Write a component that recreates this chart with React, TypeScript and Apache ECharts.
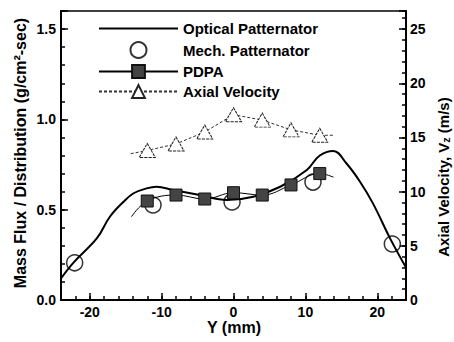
import React, { useEffect, useRef } from "react";
import * as echarts from "echarts";

// ---- data ----
const OPTICAL_X = [-24, -22.2, -19, -17.2, -15.3, -13.9, -12.1, -10.7, -8.4, -4.7, -0.9, 2.75, 6.5, 10.2, 12.0, 13.9, 15.7, 17.6, 19.4, 21.8, 24];
const OPTICAL_Y = [0.12, 0.21, 0.342, 0.461, 0.544, 0.591, 0.618, 0.627, 0.609, 0.581, 0.554, 0.572, 0.627, 0.72, 0.8, 0.825, 0.757, 0.655, 0.535, 0.34, 0.18];

const MECH_X = [-22.1, -11.2, -0.2, 11.06, 22.1];
const MECH_Y = [0.206, 0.526, 0.543, 0.653, 0.31];

// first and last entries are curve ends without marker
const PDPA_X = [-14.2, -12, -8, -4, 0, 4, 8, 12, 13.9];
const PDPA_Y = [0.461, 0.548, 0.581, 0.559, 0.594, 0.581, 0.637, 0.7, 0.68];

const AXIAL_X = [-14.3, -12, -8, -4, 0, 4, 8, 12, 13.9];
const AXIAL_Y = [13.5, 13.8, 14.4, 15.5, 17.1, 16.6, 15.7, 15.2, 15.2];

const SERIES_NAMES = ["Optical Patternator", "Mech. Patternator", "PDPA", "Axial Velocity"];
const X_NAME = "Y (mm)";
const LEFT_NAME = "Mass Flux / Distribution (g/cm²-sec)";
const RIGHT_NAME = "Axial Velocity, V{sub|z} (m/s)";

const FONT = 'Arial, "Liberation Sans", Helvetica, sans-serif';

function zip(xs: number[], ys: number[]) {
  return xs.map((x, i) => [x, ys[i]]);
}
function zipEnds(xs: number[], ys: number[]) {
  return xs.map((x, i) =>
    i === 0 || i === xs.length - 1 ? { value: [x, ys[i]], symbol: "none" } : { value: [x, ys[i]] }
  );
}

export default function App() {
  const ref = useRef<HTMLDivElement>(null);
  useEffect(() => {
    document.body.style.margin = "0";
    const chart = echarts.init(ref.current!, null, { renderer: "svg" });
    const labelStyle = { color: "#000", fontWeight: "bold" as const, fontSize: 14, fontFamily: FONT };
    const tickStyle = { color: "#000", width: 1.5 };
    const option: any = {
      animation: false,
      backgroundColor: "#fff",
      grid: { left: 61, right: 48, top: 11, bottom: 42, show: true, borderColor: "#000", borderWidth: 1.5, containLabel: false, outerBoundsMode: "none" },
      legend: {
        data: [
          { name: SERIES_NAMES[0], itemStyle: { opacity: 0 } },
          SERIES_NAMES[1],
          SERIES_NAMES[2],
          SERIES_NAMES[3],
        ],
        orient: "vertical",
        left: 93,
        top: 16,
        itemWidth: 79,
        itemHeight: 16,
        itemGap: 5,
        selectedMode: false,
        textStyle: { color: "#000", fontWeight: "bold", fontSize: 15, fontFamily: FONT },
      },
      xAxis: [
        {
          type: "value", position: "bottom", min: -24, max: 24, interval: 2,
          axisLine: { show: true, onZero: false, lineStyle: { color: "#000", width: 2 } },
          axisTick: { show: true, inside: true, length: 4, lineStyle: tickStyle },
          axisLabel: { ...labelStyle, margin: 5, formatter: (v: number) => (Math.abs(v % 10) < 1e-6 ? String(v) : "") },
          splitLine: { show: false },
        },
        {
          type: "value", position: "bottom", min: -24, max: 24, splitNumber: 5,
          axisLine: { show: false, onZero: false },
          axisTick: { show: true, inside: true, length: 7, lineStyle: tickStyle },
          axisLabel: { show: false },
          splitLine: { show: false },
        },
      ],
      yAxis: [
        {
          type: "value", position: "left", min: 0, max: 1.6, interval: 0.1,
          axisLine: { show: true, onZero: false, lineStyle: { color: "#000", width: 2 } },
          axisTick: { show: true, inside: true, length: 4, lineStyle: tickStyle },
          axisLabel: { ...labelStyle, margin: 5, formatter: (v: number) => (Math.abs(v * 2 - Math.round(v * 2)) < 1e-6 ? v.toFixed(1) : "") },
          splitLine: { show: false },
        },
        {
          type: "value", position: "left", min: 0, max: 1.6, interval: 0.5,
          axisLine: { show: false, onZero: false },
          axisTick: { show: true, inside: true, length: 7, lineStyle: tickStyle },
          axisLabel: { show: false },
          splitLine: { show: false },
        },
        {
          type: "value", position: "right", min: 0, max: 80 / 3, interval: 1,
          axisLine: { show: true, onZero: false, lineStyle: { color: "#000", width: 2 } },
          axisTick: { show: true, inside: true, length: 4, lineStyle: tickStyle },
          axisLabel: { ...labelStyle, margin: 4, formatter: (v: number) => (Math.abs(v - Math.round(v)) < 1e-6 && Math.round(v) % 5 === 0 ? String(Math.round(v)) : "") },
          splitLine: { show: false },
        },
        {
          type: "value", position: "right", min: 0, max: 80 / 3, interval: 5,
          axisLine: { show: false, onZero: false },
          axisTick: { show: true, inside: true, length: 7, lineStyle: tickStyle },
          axisLabel: { show: false },
          splitLine: { show: false },
        },
      ],
      series: [
        {
          name: SERIES_NAMES[0], type: "line", xAxisIndex: 0, yAxisIndex: 0,
          data: zip(OPTICAL_X, OPTICAL_Y), smooth: 0.4, symbol: "none",
          lineStyle: { color: "#000", width: 2 }, itemStyle: { color: "#000" },
        },
        {
          name: SERIES_NAMES[1], type: "scatter", xAxisIndex: 0, yAxisIndex: 0,
          data: zip(MECH_X, MECH_Y), symbol: "circle", symbolSize: 16,
          itemStyle: { color: "#fff", borderColor: "#000", borderWidth: 1.5 },
        },
        {
          name: SERIES_NAMES[2], type: "line", xAxisIndex: 0, yAxisIndex: 0,
          data: zipEnds(PDPA_X, PDPA_Y), smooth: 0.4, symbol: "rect", symbolSize: 12,
          lineStyle: { color: "#000", width: 1 },
          itemStyle: { color: "#444", borderColor: "#111", borderWidth: 1 },
        },
        {
          name: SERIES_NAMES[3], type: "line", xAxisIndex: 0, yAxisIndex: 2,
          data: zipEnds(AXIAL_X, AXIAL_Y), smooth: false, symbol: "triangle", symbolSize: [16, 14],
          lineStyle: { color: "#333", width: 1, type: [3, 2] },
          itemStyle: { color: "#fff", borderColor: "#222", borderWidth: 1, borderType: [3, 1] },
        },
      ],
      graphic: [
        {
          type: "text", x: 234, y: 327,
          style: { text: X_NAME, font: `bold 16px ${FONT}`, fill: "#000", textAlign: "center", textVerticalAlign: "middle" },
        },
        {
          type: "text", x: 20, y: 153, rotation: Math.PI / 2,
          style: { text: LEFT_NAME, font: `bold 16px ${FONT}`, fill: "#000", textAlign: "center", textVerticalAlign: "middle" },
        },
        {
          type: "text", x: 443, y: 177, rotation: Math.PI / 2,
          style: {
            text: RIGHT_NAME, font: `bold 15px ${FONT}`, fill: "#000", textAlign: "center", textVerticalAlign: "middle",
            rich: { sub: { fontSize: 11, fontWeight: "bold", fontFamily: FONT, fill: "#000", padding: [6, 0, 0, 0] } },
          },
        },
      ],
    };
    chart.setOption(option);
    return () => chart.dispose();
  }, []);
  return <div ref={ref} style={{ width: 454, height: 342 }} />;
}
